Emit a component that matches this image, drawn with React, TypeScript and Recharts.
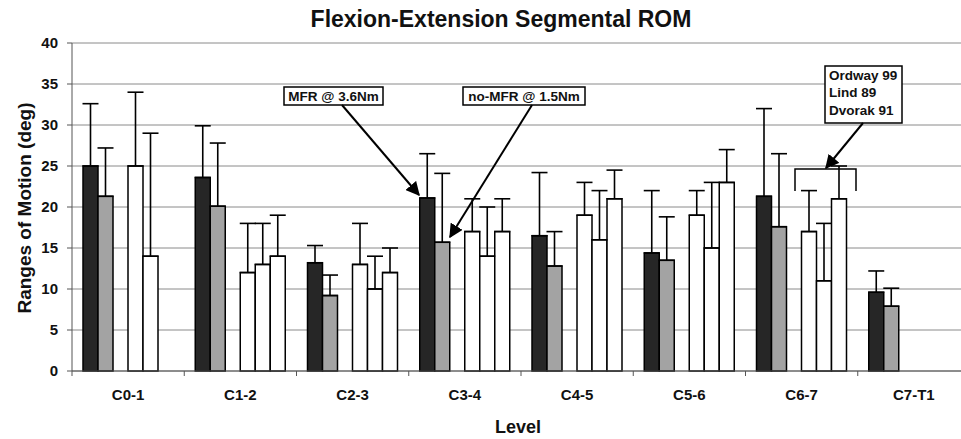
import { BarChart, Bar, XAxis, YAxis, CartesianGrid, ErrorBar } from 'recharts';

const levels = ['C0-1', 'C1-2', 'C2-3', 'C3-4', 'C4-5', 'C5-6', 'C6-7', 'C7-T1'];

// means (deg)
const mfr = [25.0, 23.6, 13.2, 21.1, 16.5, 14.4, 21.3, 9.6];
const noMfr = [21.3, 20.1, 9.2, 15.7, 12.8, 13.5, 17.6, 7.9];
const ordway = [25, 12, 13, 17, 19, 19, 17, null];
const lind = [14, 13, 10, 14, 16, 15, 11, null];
const dvorak = [null, 14, 12, 17, 21, 23, 21, null];

// standard deviations (drawn upward only)
const mfrSd = [7.6, 6.3, 2.1, 5.4, 7.7, 7.6, 10.7, 2.6];
const noMfrSd = [5.9, 7.7, 2.5, 8.4, 4.2, 5.3, 8.9, 2.2];
const ordwaySd = [9, 6, 5, 4, 4, 3, 5, null];
const lindSd = [15, 5, 4, 6, 6, 8, 7, null];
const dvorakSd = [null, 5, 3, 4, 3.5, 4, 4, null];

const yTicks = [0, 5, 10, 15, 20, 25, 30, 35, 40];

const up = (sd: number | null) => (sd == null ? null : [0, sd]);

const data = levels.map((level, i) => ({
  level,
  mfr: mfr[i],
  noMfr: noMfr[i],
  gap: null,
  ordway: ordway[i],
  lind: lind[i],
  dvorak: dvorak[i],
  mfrErr: up(mfrSd[i]),
  noMfrErr: up(noMfrSd[i]),
  ordwayErr: up(ordwaySd[i]),
  lindErr: up(lindSd[i]),
  dvorakErr: up(dvorakSd[i]),
}));

const FONT = '"Liberation Sans", Arial, sans-serif';
const AXIS = '#555';

const LevelTick = (props: any) => {
  const { x, y, payload } = props;
  const half = payload && payload.offset ? payload.offset : 56;
  return (
    <g>
      <line x1={x - half} x2={x - half} y1={y} y2={y + 5} stroke={AXIS} />
      <text x={x} y={y} dy={29} textAnchor="middle" fontFamily={FONT} fontWeight="bold" fontSize={15} fill="#111">
        {payload.value}
      </text>
    </g>
  );
};

const series = [
  { key: 'mfr', fill: '#262626' },
  { key: 'noMfr', fill: '#a3a3a3' },
  { key: 'gap', fill: 'none' },
  { key: 'ordway', fill: '#fff' },
  { key: 'lind', fill: '#fff' },
  { key: 'dvorak', fill: '#fff' },
];

export default function App() {
  return (
    <div style={{ position: 'absolute', left: 0, top: 0, width: 961, height: 439, overflow: 'hidden', background: '#fff' }}>
      <BarChart
        width={980}
        height={439}
        data={data}
        margin={{ top: 43, right: 10, bottom: 28, left: 0 }}
        barSize={15}
        barGap={0}
      >
        <CartesianGrid vertical={false} stroke="#8a8a8a" />
        <XAxis
          dataKey="level"
          height={40}
          tickLine={false}
          tickSize={0}
          tickMargin={0}
          stroke={AXIS}
          tick={<LevelTick />}
          interval={0}
        />
        <YAxis
          width={72}
          domain={[0, 40]}
          ticks={yTicks}
          interval={0}
          stroke={AXIS}
          tickSize={5}
          tickMargin={9}
          tick={{ fontFamily: FONT, fontWeight: 'bold', fontSize: 15, fill: '#111' }}
        />
        {series.map((s) => (
          <Bar
            key={s.key}
            dataKey={s.key}
            fill={s.fill}
            stroke={s.key === 'gap' ? 'none' : '#000'}
            strokeWidth={1.5}
            isAnimationActive={false}
          >
            {s.key !== 'gap' && (
              <ErrorBar dataKey={`${s.key}Err`} width={8} stroke="#000" strokeWidth={1.6} direction="y" />
            )}
          </Bar>
        ))}
      </BarChart>
      <svg width={961} height={439} style={{ position: 'absolute', left: 0, top: 0, pointerEvents: 'none' }}>
        <defs>
          <marker id="arr" viewBox="0 0 10 10" refX="9" refY="5" markerWidth="7" markerHeight="7" orient="auto">
            <path d="M0,0 L10,5 L0,10 z" fill="#000" />
          </marker>
        </defs>
        <text x={501} y={27} textAnchor="middle" fontFamily={FONT} fontWeight="bold" fontSize={23} fill="#111">
          Flexion-Extension Segmental ROM
        </text>
        <text x={518} y={433} textAnchor="middle" fontFamily={FONT} fontWeight="bold" fontSize={18} fill="#111">
          Level
        </text>
        <text
          x={0}
          y={0}
          transform="translate(31,208) rotate(-90)"
          textAnchor="middle"
          fontFamily={FONT}
          fontWeight="bold"
          fontSize={19}
          fill="#111"
        >
          Ranges of Motion (deg)
        </text>

        <rect x={284} y={87} width={99} height={18} fill="#fff" stroke="#000" strokeWidth={1.5} />
        <text x={333.5} y={101} textAnchor="middle" fontFamily={FONT} fontWeight="bold" fontSize={13.5} fill="#111">
          MFR @ 3.6Nm
        </text>
        <line x1={342} y1={105} x2={419} y2={195} stroke="#000" strokeWidth={2} markerEnd="url(#arr)" />

        <rect x={463} y={87} width={122} height={18} fill="#fff" stroke="#000" strokeWidth={1.5} />
        <text x={524} y={101} textAnchor="middle" fontFamily={FONT} fontWeight="bold" fontSize={13.5} fill="#111">
          no-MFR @ 1.5Nm
        </text>
        <line x1={532} y1={105} x2={450} y2={237} stroke="#000" strokeWidth={2} markerEnd="url(#arr)" />

        <rect x={825} y={66} width={77} height={57} fill="#fff" stroke="#000" strokeWidth={1.5} />
        <text x={829} y={80} fontFamily={FONT} fontWeight="bold" fontSize={13.5} fill="#111">Ordway 99</text>
        <text x={829} y={97} fontFamily={FONT} fontWeight="bold" fontSize={13.5} fill="#111">Lind 89</text>
        <text x={829} y={115} fontFamily={FONT} fontWeight="bold" fontSize={13.5} fill="#111">Dvorak 91</text>
        <line x1={863} y1={123} x2={826} y2={168} stroke="#000" strokeWidth={2} markerEnd="url(#arr)" />
        <path d="M795,191 V169 H856 V191" fill="none" stroke="#000" strokeWidth={1.5} />
      </svg>
    </div>
  );
}
